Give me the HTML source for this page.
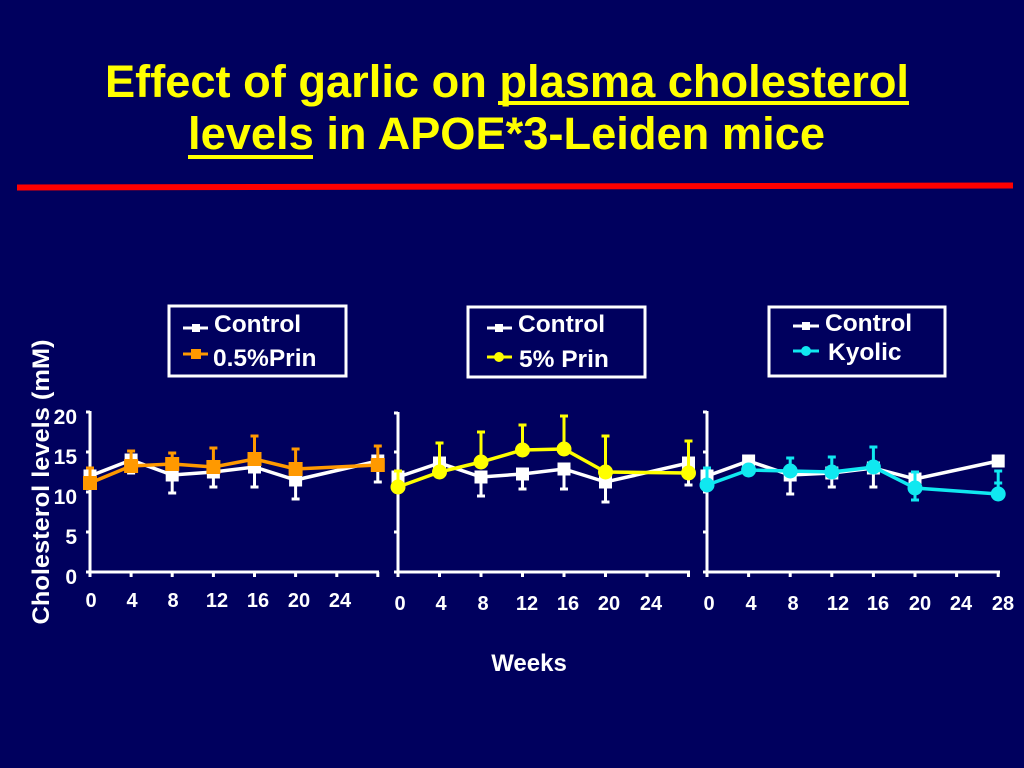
<!DOCTYPE html>
<html>
<head>
<meta charset="utf-8">
<style>
html,body{margin:0;padding:0;background:#00005e;}
svg{display:block;}
text{font-family:"Liberation Sans",Arial,sans-serif;font-weight:bold;}
</style>
</head>
<body>
<svg width="1024" height="768" viewBox="0 0 1024 768" xmlns="http://www.w3.org/2000/svg">
<rect width="1024" height="768" fill="#00005e"/>

<!-- Title -->
<text x="105" y="97" font-size="45" fill="#ffff00" textLength="804" lengthAdjust="spacingAndGlyphs">Effect of garlic on plasma cholesterol</text>
<rect x="498" y="101" width="411" height="4" fill="#ffff00"/>
<text x="188" y="149" font-size="45" fill="#ffff00" textLength="637" lengthAdjust="spacingAndGlyphs">levels in APOE*3-Leiden mice</text>
<rect x="188" y="155" width="125" height="4" fill="#ffff00"/>

<!-- red rule -->
<polygon points="17,184.5 1013,182.5 1013,188.5 17,190.5" fill="#ff0000"/>

<!-- Legends -->
<g fill="none" stroke="#ffffff" stroke-width="3">
  <rect x="169" y="306" width="177" height="70"/>
  <rect x="468" y="307" width="177" height="70"/>
  <rect x="769" y="307" width="176" height="69"/>
</g>
<!-- legend 1 -->
<line x1="183" y1="328" x2="208" y2="328" stroke="#fff" stroke-width="3"/>
<rect x="192" y="324" width="8" height="8" fill="#fff"/>
<line x1="183" y1="354" x2="208" y2="354" stroke="#ff9900" stroke-width="3"/>
<rect x="191" y="349" width="10" height="10" fill="#ff9900"/>
<text x="214" y="332" font-size="24.5" fill="#fff">Control</text>
<text x="213" y="366" font-size="24.5" fill="#fff">0.5%Prin</text>
<!-- legend 2 -->
<line x1="487" y1="328" x2="512" y2="328" stroke="#fff" stroke-width="3"/>
<rect x="495" y="324" width="8" height="8" fill="#fff"/>
<line x1="487" y1="357" x2="512" y2="357" stroke="#ffff00" stroke-width="3"/>
<circle cx="499" cy="357" r="5" fill="#ffff00"/>
<text x="518" y="332" font-size="24.5" fill="#fff">Control</text>
<text x="519" y="367" font-size="24.5" fill="#fff">5% Prin</text>
<!-- legend 3 -->
<line x1="793" y1="326" x2="819" y2="326" stroke="#fff" stroke-width="3"/>
<rect x="802" y="322" width="8" height="8" fill="#fff"/>
<line x1="793" y1="351" x2="819" y2="351" stroke="#10e8f0" stroke-width="3"/>
<circle cx="806" cy="351" r="5" fill="#10e8f0"/>
<text x="825" y="331" font-size="24.5" fill="#fff">Control</text>
<text x="828" y="360" font-size="24.5" fill="#fff">Kyolic</text>

<!-- Y axis label -->
<text transform="translate(49,482) rotate(-90)" text-anchor="middle" font-size="24" fill="#fff" textLength="285" lengthAdjust="spacingAndGlyphs">Cholesterol levels (mM)</text>

<!-- Y tick labels -->
<g font-size="21" fill="#fff" text-anchor="end">
  <text x="77" y="424">20</text>
  <text x="77" y="464">15</text>
  <text x="77" y="504">10</text>
  <text x="77" y="544">5</text>
  <text x="77" y="584">0</text>
</g>

<!-- Axes -->
<g stroke="#fff" stroke-width="3" fill="none">
  <!-- panel 1 -->
  <polyline points="90,411 90,572 379,572"/>
  <path d="M86,412H90M86,452H90M86,492H90M86,532H90M86,572H90"/>
  <path d="M90,572V577M131.1,572V577M172.2,572V577M213.4,572V577M254.5,572V577M295.6,572V577M336.8,572V577M377.8,572V577"/>
  <!-- panel 2 -->
  <polyline points="398,412 398,572 690,572"/>
  <path d="M394,413H398M394,452H398M394,492H398M394,532H398M394,572H398"/>
  <path d="M398,572V577M439.5,572V577M481,572V577M522.5,572V577M564,572V577M605.5,572V577M647,572V577M688.5,572V577"/>
  <!-- panel 3 -->
  <polyline points="707,411 707,572 1000,572"/>
  <path d="M703,412H707M703,452H707M703,492H707M703,532H707M703,572H707"/>
  <path d="M707,572V577M748.6,572V577M790.2,572V577M831.8,572V577M873.4,572V577M915,572V577M956.6,572V577M998.2,572V577"/>
</g>

<!-- X tick labels -->
<g font-size="20" fill="#fff" text-anchor="middle">
  <text x="91" y="607">0</text><text x="132" y="607">4</text><text x="173" y="607">8</text><text x="217" y="607">12</text><text x="258" y="607">16</text><text x="299" y="607">20</text><text x="340" y="607">24</text>
  <text x="400" y="610">0</text><text x="441" y="610">4</text><text x="483" y="610">8</text><text x="527" y="610">12</text><text x="568" y="610">16</text><text x="609" y="610">20</text><text x="651" y="610">24</text>
  <text x="709" y="610">0</text><text x="751" y="610">4</text><text x="793" y="610">8</text><text x="838" y="610">12</text><text x="878" y="610">16</text><text x="920" y="610">20</text><text x="961" y="610">24</text><text x="1003" y="610">28</text>
</g>
<text x="529" y="671" font-size="24" fill="#fff" text-anchor="middle">Weeks</text>

<!-- ===== Panel 1 ===== -->
<!-- control error bars -->
<g stroke="#fff" stroke-width="3">
  <path d="M131.1,460V473M127.1,473H135.1"/>
  <path d="M172.2,475V493M168.2,493H176.2"/>
  <path d="M213.4,472V487M209.4,487H217.4"/>
  <path d="M254.5,467V487M250.5,487H258.5"/>
  <path d="M295.6,480V499M291.6,499H299.6"/>
  <path d="M377.8,461V482M373.8,482H381.8"/>
</g>
<polyline points="90,476 131.1,460 172.2,475 213.4,472 254.5,467 295.6,480 377.8,461" fill="none" stroke="#fff" stroke-width="3.5"/>
<g fill="#fff">
  <rect x="83.5" y="469.5" width="13" height="13"/><rect x="124.6" y="453.5" width="13" height="13"/><rect x="165.7" y="468.5" width="13" height="13"/><rect x="206.9" y="465.5" width="13" height="13"/><rect x="248" y="460.5" width="13" height="13"/><rect x="289.1" y="473.5" width="13" height="13"/><rect x="371.3" y="454.5" width="13" height="13"/>
</g>
<!-- orange error bars -->
<g stroke="#ff9900" stroke-width="3">
  <path d="M90,483V468M86,468H94"/>
  <path d="M131.1,466V451M127.1,451H135.1"/>
  <path d="M172.2,464V453M168.2,453H176.2"/>
  <path d="M213.4,467V448M209.4,448H217.4"/>
  <path d="M254.5,459V436M250.5,436H258.5"/>
  <path d="M295.6,469V449M291.6,449H299.6"/>
  <path d="M377.8,465V446M373.8,446H381.8"/>
</g>
<polyline points="90,483 131.1,466 172.2,464 213.4,467 254.5,459 295.6,469 377.8,465" fill="none" stroke="#ff9900" stroke-width="3.5"/>
<g fill="#ff9900">
  <rect x="83" y="476" width="14" height="14"/><rect x="124.1" y="459" width="14" height="14"/><rect x="165.2" y="457" width="14" height="14"/><rect x="206.4" y="460" width="14" height="14"/><rect x="247.5" y="452" width="14" height="14"/><rect x="288.6" y="462" width="14" height="14"/><rect x="370.8" y="458" width="14" height="14"/>
</g>

<!-- ===== Panel 2 ===== -->
<g stroke="#fff" stroke-width="3">
  <path d="M439.5,463V470"/>
  <path d="M481,477V496M477,496H485"/>
  <path d="M522.5,474V489M518.5,489H526.5"/>
  <path d="M564,469V489M560,489H568"/>
  <path d="M605.5,482V502M601.5,502H609.5"/>
  <path d="M688.5,463V485M684.5,485H692.5"/>
</g>
<polyline points="398,477 439.5,463 481,477 522.5,474 564,469 605.5,482 688.5,463" fill="none" stroke="#fff" stroke-width="3.5"/>
<g fill="#fff">
  <rect x="391.5" y="470.5" width="13" height="13"/><rect x="433" y="456.5" width="13" height="13"/><rect x="474.5" y="470.5" width="13" height="13"/><rect x="516" y="467.5" width="13" height="13"/><rect x="557.5" y="462.5" width="13" height="13"/><rect x="599" y="475.5" width="13" height="13"/><rect x="682" y="456.5" width="13" height="13"/>
</g>
<g stroke="#ffff00" stroke-width="3">
  <path d="M398,487V471M394,471H402"/>
  <path d="M439.5,472V443M435.5,443H443.5"/>
  <path d="M481,462V432M477,432H485"/>
  <path d="M522.5,450V425M518.5,425H526.5"/>
  <path d="M564,449V416M560,416H568"/>
  <path d="M605.5,472V436M601.5,436H609.5"/>
  <path d="M688.5,473V441M684.5,441H692.5"/>
</g>
<polyline points="398,487 439.5,472 481,462 522.5,450 564,449 605.5,472 688.5,473" fill="none" stroke="#ffff00" stroke-width="3.5"/>
<g fill="#ffff00">
  <circle cx="398" cy="487" r="7.5"/><circle cx="439.5" cy="472" r="7.5"/><circle cx="481" cy="462" r="7.5"/><circle cx="522.5" cy="450" r="7.5"/><circle cx="564" cy="449" r="7.5"/><circle cx="605.5" cy="472" r="7.5"/><circle cx="688.5" cy="473" r="7.5"/>
</g>

<!-- ===== Panel 3 ===== -->
<g stroke="#fff" stroke-width="3">
  <path d="M790.2,475V494M786.2,494H794.2"/>
  <path d="M831.8,473V487M827.8,487H835.8"/>
  <path d="M873.4,468V487M869.4,487H877.4"/>
  <path d="M915,479V492"/>
</g>
<polyline points="707,476 748.6,461 790.2,475 831.8,473 873.4,468 915,479 998.2,461" fill="none" stroke="#fff" stroke-width="3.5"/>
<g fill="#fff">
  <rect x="700.5" y="469.5" width="13" height="13"/><rect x="742.1" y="454.5" width="13" height="13"/><rect x="783.7" y="468.5" width="13" height="13"/><rect x="825.3" y="466.5" width="13" height="13"/><rect x="866.9" y="461.5" width="13" height="13"/><rect x="908.5" y="472.5" width="13" height="13"/><rect x="991.7" y="454.5" width="13" height="13"/>
</g>
<g stroke="#10e8f0" stroke-width="3">
  <path d="M707,485V468M703,468H711"/>
  <path d="M790.2,471V458M786.2,458H794.2"/>
  <path d="M831.8,472V457M827.8,457H835.8"/>
  <path d="M873.4,467V447M869.4,447H877.4"/>
  <path d="M915,472V500M911,472H919M911,500H919"/>
  <path d="M998.2,494V471M994.2,471H1002.2M994.2,483H1002.2"/>
</g>
<polyline points="707,485 748.6,470 790.2,471 831.8,472 873.4,467 915,488 998.2,494" fill="none" stroke="#10e8f0" stroke-width="3.5"/>
<g fill="#10e8f0">
  <circle cx="707" cy="485" r="7.5"/><circle cx="748.6" cy="470" r="7.5"/><circle cx="790.2" cy="471" r="7.5"/><circle cx="831.8" cy="472" r="7.5"/><circle cx="873.4" cy="467" r="7.5"/><circle cx="915" cy="488" r="7.5"/><circle cx="998.2" cy="494" r="7.5"/>
</g>
</svg>
</body>
</html>
